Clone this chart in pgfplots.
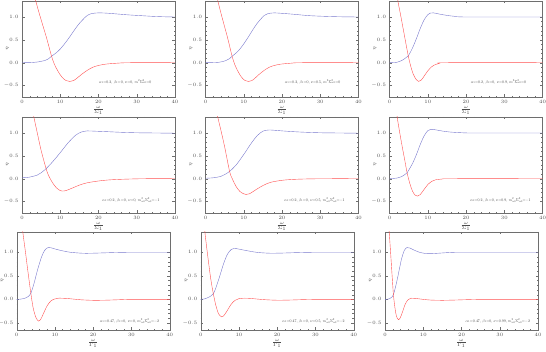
\documentclass[border=0pt]{standalone}
\usepackage{pgfplots}
\pgfplotsset{compat=1.18}
\definecolor{curveblue}{RGB}{120,120,205}
\definecolor{curvered}{RGB}{255,80,80}
\definecolor{framegray}{RGB}{110,110,110}
\newcommand{\wee}{\fontsize{4}{5}\selectfont}
\pgfplotsset{
  panel/.style={
    scale only axis, width=153pt, height=96pt, anchor=south west,
    xmin=0, xmax=40, ymin=-0.75, ymax=1.35,
    xtick={0,10,20,30,40}, ytick={-0.5,0,0.5,1},
    minor x tick num=4, minor y tick num=4,
    tick align=inside, major tick length=2.5pt, minor tick length=1.3pt,
    axis line style={framegray, line width=0.35pt},
    every tick/.style={framegray, line width=0.3pt},
    ticklabel style={font=\wee, text=black!70},
    yticklabel style={/pgf/number format/.cd, fixed, fixed zerofill, precision=1},
    xlabel={$\frac{\omega}{\Sigma_1}$}, ylabel={$\eta$},
    label style={font=\fontsize{5}{6}\selectfont, text=black!70},
    xlabel style={yshift=4pt},
    ylabel style={at={(axis description cs:-0.095,0.5)}, anchor=center},
    every axis plot/.append style={smooth, line width=0.4pt},
  },
  panellow/.style={panel, height=98pt, ymin=-0.65, ymax=1.43,
    xlabel={$\frac{\omega}{\Gamma_1}$}},
  blue/.style={curveblue},
  red/.style={curvered},
}
\newcommand{\note}[3]{\node[font=\normalsize, text=black!80, scale=0.39] at (axis cs:#1,#2) {#3};}
\begin{document}
\begin{tikzpicture}
\useasboundingbox (0,0) rectangle (546pt,352pt);
% row 1
\begin{axis}[panel, at={(22pt,255pt)}]
\addplot[blue] coordinates {(0,0) (2,0.002) (4,0.015) (6,0.05) (7,0.09) (7.7,0.14) (9,0.22) (10,0.3) (11,0.4) (12,0.51) (13,0.63) (14,0.75) (15,0.86) (16,0.95) (17,1.03) (18,1.07) (19,1.085) (20,1.09) (22,1.085) (25,1.065) (28,1.045) (31,1.03) (34,1.015) (37,1.005) (40,1.0)};
\addplot[red] coordinates {(2.5,1.7) (3.6,1.35) (4.5,1.08) (5.5,0.8) (6.5,0.52) (7.7,0.15) (8.5,-0.04) (9.5,-0.2) (10.5,-0.32) (11.5,-0.39) (12.5,-0.41) (13.5,-0.39) (14.5,-0.33) (15.5,-0.26) (17,-0.17) (18.5,-0.1) (20,-0.06) (22,-0.03) (25,-0.01) (28,0) (40,0)};
\note{27}{-0.42}{$\alpha_1{=}0.2,\,\beta_1{=}0,\,\nu{=}0,\,m^2\Sigma_{\alpha0}^2{=}0$}
\end{axis}
\begin{axis}[panel, at={(205.5pt,255pt)}]
\addplot[blue] coordinates {(0,0) (3.6,0.01) (5.4,0.05) (6.3,0.09) (6.93,0.14) (8.1,0.22) (9,0.3) (9.9,0.4) (10.8,0.51) (11.7,0.63) (12.6,0.75) (13.5,0.86) (14.4,0.95) (15.3,1.03) (16.2,1.07) (17.1,1.085) (18,1.09) (20,1.08) (23,1.06) (27,1.03) (31,1.015) (35,1.005) (40,1.0)};
\addplot[red] coordinates {(2.25,1.7) (3.24,1.35) (4.05,1.08) (4.95,0.8) (5.85,0.52) (6.93,0.15) (7.65,-0.04) (8.55,-0.2) (9.45,-0.32) (10.35,-0.39) (11.25,-0.41) (12.15,-0.39) (13.05,-0.33) (13.95,-0.26) (15.3,-0.17) (16.65,-0.1) (18,-0.06) (19.8,-0.03) (22.5,-0.01) (25,0) (40,0)};
\note{28}{-0.42}{$\alpha_1{=}0.2,\,\beta_1{=}0,\,\nu{=}0.5,\,m^2\Sigma_{\alpha0}^2{=}0$}
\end{axis}
\begin{axis}[panel, at={(389.5pt,255pt)}]
\addplot[blue] coordinates {(0,0) (2,0.01) (3,0.04) (4,0.09) (4.9,0.15) (6,0.32) (7,0.52) (8,0.74) (9,0.93) (10,1.05) (10.6,1.085) (11.5,1.09) (13,1.065) (15,1.035) (17,1.015) (20,1.0) (40,1.0)};
\addplot[red] coordinates {(1.5,1.75) (2.2,1.35) (3,1.0) (4,0.55) (4.9,0.15) (5.5,-0.06) (6.2,-0.25) (7,-0.37) (7.6,-0.41) (8.3,-0.38) (9,-0.3) (10,-0.18) (11,-0.09) (12,-0.04) (13,-0.015) (15,0) (40,0)};
\note{28.5}{-0.42}{$\alpha_1{=}0.2,\,\beta_1{=}0,\,\nu{=}0.9,\,m^2\Sigma_{\alpha0}^2{=}0$}
\end{axis}
% row 2
\begin{axis}[panel, at={(22pt,139pt)}]
\addplot[blue] coordinates {(0,0.02) (2,0.035) (4,0.08) (5,0.13) (6.3,0.22) (8,0.37) (10,0.57) (12,0.78) (14,0.95) (15.5,1.02) (17,1.045) (19,1.04) (22,1.03) (26,1.015) (30,1.005) (35,1.0) (40,0.995)};
\addplot[red] coordinates {(2.3,1.7) (3.1,1.35) (4,1.0) (5,0.62) (6.3,0.22) (7,0.06) (8,-0.09) (9,-0.2) (10,-0.26) (10.5,-0.27) (11.5,-0.26) (13,-0.21) (15,-0.14) (17,-0.09) (20,-0.05) (23,-0.025) (27,-0.01) (32,0) (40,0)};
\note{28.5}{-0.47}{$\alpha_1{=}0.2,\,\beta_1{=}0,\,\nu{=}0,\,m_{\alpha0}^2\Sigma_{\alpha0}^2{=}{-1}$}
\end{axis}
\begin{axis}[panel, at={(205.5pt,139pt)}]
\addplot[blue] coordinates {(0,0.01) (2,0.02) (4,0.05) (5,0.09) (6.3,0.16) (8,0.3) (10,0.53) (12,0.78) (13.5,0.94) (15,1.04) (16.5,1.065) (18,1.06) (21,1.04) (25,1.02) (30,1.005) (35,1.0) (40,0.995)};
\addplot[red] coordinates {(2.4,1.7) (3.2,1.35) (4,1.07) (5,0.7) (6.3,0.16) (7,0.0) (8,-0.17) (9,-0.28) (10,-0.33) (10.6,-0.345) (11.5,-0.33) (13,-0.25) (15,-0.15) (17,-0.08) (20,-0.035) (23,-0.015) (27,-0.004) (32,0) (40,0)};
\note{28.5}{-0.47}{$\alpha_1{=}0.2,\,\beta_1{=}0,\,\nu{=}0.5,\,m_{\alpha0}^2\Sigma_{\alpha0}^2{=}{-1}$}
\end{axis}
\begin{axis}[panel, at={(389.5pt,139pt)}]
\addplot[blue] coordinates {(0,0) (2,0.015) (3,0.04) (4,0.09) (4.6,0.13) (6,0.33) (7,0.52) (8,0.74) (9,0.93) (10,1.05) (10.8,1.08) (12,1.07) (14,1.04) (16,1.02) (19,1.005) (22,1.0) (40,1.0)};
\addplot[red] coordinates {(1.4,1.75) (2.0,1.35) (3,0.85) (4,0.4) (4.6,0.13) (5.3,-0.1) (6,-0.27) (6.7,-0.36) (7.3,-0.38) (8,-0.35) (9,-0.24) (10,-0.13) (11,-0.06) (12,-0.025) (14,-0.005) (16,0) (40,0)};
\note{29}{-0.47}{$\alpha_1{=}0.2,\,\beta_1{=}0,\,\nu{=}0.9,\,m_{\alpha0}^2\Sigma_{\alpha0}^2{=}{-1}$}
\end{axis}
% row 3
\begin{axis}[panellow, at={(16.7pt,22pt)}]
\addplot[blue] coordinates {(0,0) (1,0.005) (2,0.02) (3,0.06) (3.7,0.13) (4.5,0.33) (5.5,0.64) (6.5,0.9) (7.3,1.04) (8.2,1.1) (9,1.095) (10,1.07) (12,1.03) (14,1.0) (17,0.98) (19,0.978) (22,0.985) (26,0.995) (30,1.0) (40,1.0)};
\addplot[red] coordinates {(1.0,1.9) (1.6,1.43) (2.3,1.0) (3,0.55) (3.7,0.13) (4.3,-0.18) (5,-0.38) (5.7,-0.46) (6.3,-0.42) (7,-0.3) (8,-0.13) (9,-0.03) (10,0.01) (11,0.025) (13,0.02) (15,0.005) (17,-0.01) (20,-0.02) (23,-0.018) (26,-0.01) (30,0) (40,0)};
\note{29.5}{-0.46}{$\alpha_1{=}0.47,\,\beta_1{=}0,\,\nu{=}0,\,m_{\alpha0}^2\Sigma_{\alpha0}^2{=}{-2}$}
\end{axis}
\begin{axis}[panellow, at={(200.7pt,22pt)}]
\addplot[blue] coordinates {(0,0) (1,0.01) (2,0.04) (3.3,0.12) (4.2,0.3) (5,0.5) (6,0.76) (7,0.96) (8,1.06) (8.7,1.08) (9.5,1.075) (11,1.05) (13,1.02) (15,0.995) (18,0.98) (21,0.982) (25,0.992) (30,1.0) (40,1.0)};
\addplot[red] coordinates {(0.7,1.9) (1.1,1.43) (1.8,0.95) (2.6,0.45) (3.3,0.12) (4,-0.14) (4.7,-0.31) (5.5,-0.37) (6.2,-0.33) (7,-0.23) (8,-0.1) (9,-0.02) (10,0.015) (11.5,0.025) (13,0.02) (15,0.005) (17,-0.008) (20,-0.018) (23,-0.015) (27,-0.005) (31,0) (40,0)};
\note{29.5}{-0.46}{$\alpha_1{=}0.47,\,\beta_1{=}0,\,\nu{=}0.5,\,m_{\alpha0}^2\Sigma_{\alpha0}^2{=}{-2}$}
\end{axis}
\begin{axis}[panellow, at={(385pt,22pt)}]
\addplot[blue] coordinates {(0,0) (0.8,0.005) (1.5,0.03) (2.2,0.1) (3,0.35) (3.7,0.62) (4.3,0.85) (5,1.03) (5.7,1.1) (6.5,1.09) (7.5,1.05) (9,1.0) (10.5,0.975) (12,0.97) (14,0.98) (17,0.995) (20,1.0) (40,1.0)};
\addplot[red] coordinates {(0.8,1.8) (1.1,1.43) (1.5,0.95) (1.9,0.45) (2.2,0.1) (2.6,-0.18) (3.0,-0.36) (3.5,-0.43) (4,-0.39) (4.6,-0.26) (5.3,-0.1) (6,-0.01) (7,0.025) (8,0.02) (10,0.0) (12,-0.015) (15,-0.02) (18,-0.015) (22,-0.005) (26,0) (40,0)};
\note{29.5}{-0.46}{$\alpha_1{=}0.47,\,\beta_1{=}0,\,\nu{=}0.99,\,m_{\alpha0}^2\Sigma_{\alpha0}^2{=}{-2}$}
\end{axis}
\end{tikzpicture}
\end{document}
